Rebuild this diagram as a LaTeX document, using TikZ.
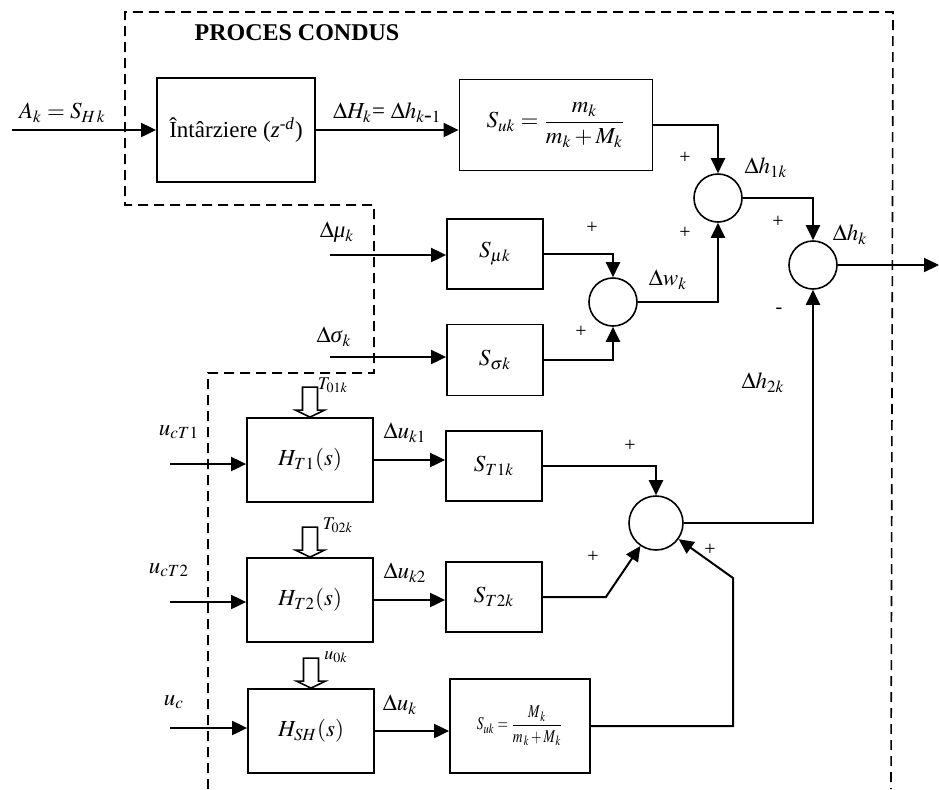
\documentclass[tikz,border=0pt]{standalone}
\usepackage{mathptmx}
\usepackage{graphicx}
\usepackage{fontspec}
\setmainfont{Liberation Serif}
\usetikzlibrary{positioning,arrows.meta,calc}
\tikzset{
  flow/.style={-{Triangle[length=7.5pt,width=7pt]},line width=1pt},
  region/.style={dashed,dash pattern=on 5pt off 3pt,line width=0.8pt},
  box/.style={draw,line width=0.9pt,inner sep=0pt,align=center},
  sumnode/.style={draw,circle,line width=0.8pt,inner sep=0pt,minimum size=24pt},
  sign/.style={font=\fontsize{10}{11}\selectfont},
  lbl/.style={font=\fontsize{11.5}{13}\selectfont},
  small/.style={font=\fontsize{9}{10}\selectfont},
  hollowin/.pic={\draw[line width=0.8pt,fill=white] (0,0) -- (14.5,-7) -- (7.5,-7)
    -- (7.5,-30) -- (-7.5,-30) -- (-7.5,-7) -- (-14.5,-7) -- cycle;}
}
\begin{document}
\begin{tikzpicture}[x=0.5pt,y=-0.5pt,font=\fontsize{11.5}{13}\selectfont]
  \useasboundingbox (0,0) rectangle (939,789);
  \draw[region] (208,789) -- (208,373) -- (374,373) -- (374,205) -- (125,205)
    -- (125,12) -- (893,12) -- (891,789);
  \node[font=\bfseries\fontsize{12}{14}\selectfont] (title) at (297,33) {PROCES CONDUS};

  \node[box,minimum width=79pt,minimum height=52pt] (intarz) at (236,130)
    {Întârziere (\textit{z}\textsuperscript{\textit{-d}})};
  \node[box,minimum width=96.5pt,minimum height=45.5pt] (suk) at (556,125)
    {$S_{uk}=\displaystyle\frac{m_k}{m_k+M_k}$};
  \node[box,minimum width=48pt,minimum height=35pt] (smu) at (495,254) {$S_{\mu k}$};
  \node[box,minimum width=48pt,minimum height=35.5pt] (ssig) at (495,360) {$S_{\sigma k}$};
  \node[box,minimum width=63pt,minimum height=42pt] (ht1) at (310,460) {$H_{T1}(s)$};
  \node[box,minimum width=48pt,minimum height=35pt] (st1) at (494,466) {$S_{T1k}$};
  \node[box,minimum width=63pt,minimum height=42pt] (ht2) at (310,600) {$H_{T2}(s)$};
  \node[box,minimum width=48pt,minimum height=35pt] (st2) at (494,597) {$S_{T2k}$};
  \node[box,minimum width=63pt,minimum height=42pt] (hsh) at (311,731) {$H_{SH}(s)$};
  \node[box,minimum width=70pt,minimum height=47pt,font=\fontsize{9}{10}\selectfont] (suk2) at (520,726)
    {\scalebox{0.75}[1]{$S_{uk}=\displaystyle\frac{M_{\,k}}{m_{\,k}+M_{\,k}}$}};

  \node[sumnode] (s1) at (718,198) {};
  \node[sumnode] (s2) at (813,265) {};
  \node[sumnode] (s3) at (613,302) {};
  \node[sumnode,minimum size=27pt] (s4) at (656,523) {};

  \coordinate (inA) at (12,130);
  \coordinate (inmu) at (330,255);
  \coordinate (insig) at (330,357);
  \coordinate (inT1) at (170,464);
  \coordinate (inT2) at (170,602);
  \coordinate (inc) at (170,728);
  \coordinate (out) at (939,265);
  \coordinate (k2) at ($(st2.east)+(63,0)$);
  \coordinate (k3) at (733,578);

  \draw[flow] (inA) -- node[lbl,above,pos=0.35] {$A_k=S_{H\,k}$} (inA -| intarz.west);
  \draw[flow] (intarz.east) -- node[lbl,above] {$\Delta H_k$= $\Delta h_{k\mbox{-}1}$} (intarz.east -| suk.west);
  \draw[flow] (suk.east) -| (s1.north);
  \draw[flow] (s1.east) -| (s2.north);
  \draw[flow] (s2.east) -- (out);
  \draw[flow] (inmu) -- (inmu -| smu.west);
  \draw[flow] (smu.east) -| (s3.north);
  \draw[flow] (insig) -- (insig -| ssig.west);
  \draw[flow] (ssig.east) -| (s3.south);
  \draw[flow] (s3.east) -| (s1.south);
  \draw[flow] (inT1) -- (inT1 -| ht1.west);
  \draw[flow] (ht1.east) -- (ht1.east -| st1.west);
  \draw[flow] (st1.east) -| (s4.north);
  \draw[flow] (inT2) -- (inT2 -| ht2.west);
  \draw[flow] (ht2.east) -- (ht2.east -| st2.west);
  \draw[flow] (st2.east) -- (k2) -- (s4);
  \draw[flow] (inc) -- (inc -| hsh.west);
  \draw[flow] (hsh.east) -- (hsh.east -| suk2.west);
  \draw[flow] (suk2.east) -| (k3) -- (s4);
  \draw[flow] (s4.east) -| (s2.south);

  \pic (a1) at (ht1.north) {hollowin};
  \pic (a2) at (ht2.north) {hollowin};
  \pic (a3) at (hsh.north) {hollowin};

  \node[small] (t01) at (333,385) {$T_{01k}$};
  \node[small] (t02) at (338,525) {$T_{02k}$};
  \node[small] (u0) at (336,657) {$u_{0k}$};

  \node[lbl] (lmu) at (337,232) {$\Delta$\textit{μ}$_k$};
  \node[lbl] (lsig) at (334,337) {$\Delta$\textit{σ}$_k$};
  \node[lbl] (luT1) at (179,432) {$u_{cT1}$};
  \node[lbl] (luT2) at (169,570) {$u_{cT2}$};
  \node[lbl] (luc) at (174,702) {$u_c$};
  \node[lbl] (ldu1) at (405,433) {$\Delta u_{k1}$};
  \node[lbl] (ldu2) at (405,573) {$\Delta u_{k2}$};
  \node[lbl] (ldu) at (400,705) {$\Delta u_k$};
  \node[lbl] (lh1) at (766,168) {$\Delta h_{1k}$};
  \node[lbl] (lh) at (850,235) {$\Delta h_k$};
  \node[lbl] (lw) at (668,280) {$\Delta w_k$};
  \node[lbl] (lh2) at (763,383) {$\Delta h_{2k}$};

  \node[sign] (p1) at (685,158) {+};
  \node[sign] (p2) at (778,222) {+};
  \node[sign] (p3) at (685,233) {+};
  \node[sign] (p4) at (592,228) {+};
  \node[sign] (p5) at (581,332) {+};
  \node[sign] (m1) at (779,311) {-};
  \node[sign] (p6) at (630,446) {+};
  \node[sign] (p7) at (593,557) {+};
  \node[sign] (p8) at (710,550) {+};
\end{tikzpicture}
\end{document}
